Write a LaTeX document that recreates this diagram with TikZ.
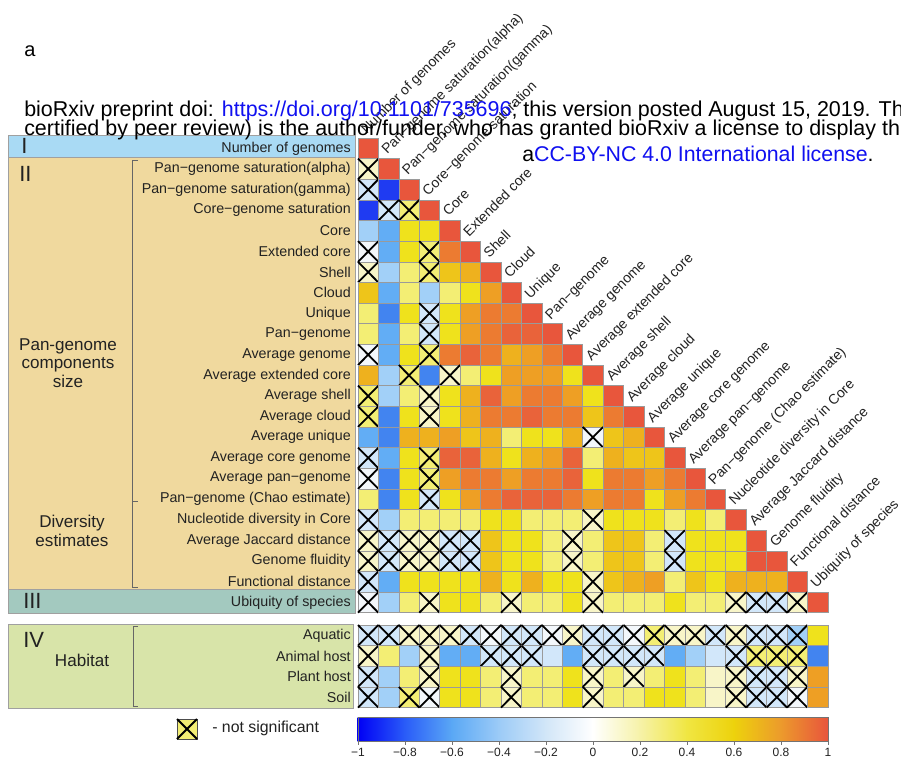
\documentclass[tikz,border=0pt]{standalone}
\usepackage{fontspec}
\setmainfont{Liberation Sans}
\definecolor{cR}{HTML}{E8563C}
\definecolor{cQ}{HTML}{E9633A}
\definecolor{cO}{HTML}{EC7B31}
\definecolor{co}{HTML}{EE9F24}
\definecolor{cg}{HTML}{EEB11E}
\definecolor{cy}{HTML}{EEC51A}
\definecolor{cY}{HTML}{EFE21C}
\definecolor{cl}{HTML}{F3EE74}
\definecolor{cp}{HTML}{F8F5C8}
\definecolor{cw}{HTML}{F3F7FB}
\definecolor{cb}{HTML}{D2E7FA}
\definecolor{cB}{HTML}{A2D0F8}
\definecolor{cm}{HTML}{62ADF5}
\definecolor{cM}{HTML}{4284F0}
\definecolor{cD}{HTML}{1F3BF2}
\definecolor{panI}{HTML}{A9DAF4}
\definecolor{panII}{HTML}{F0D99E}
\definecolor{panIII}{HTML}{A3C9BF}
\definecolor{panIV}{HTML}{D8E4A9}
\definecolor{panedge}{HTML}{A0A0A0}
\definecolor{gridc}{HTML}{9A9A9A}
\definecolor{linkblue}{HTML}{1010F0}
\definecolor{labc}{HTML}{222222}
\tikzset{
  gridl/.style={draw=gridc, line width=0.45pt},
  xmark/.style={draw=black, line width=1.35pt},
  rowlab/.style={font=\fontsize{10.7}{12}\selectfont, text=labc, inner sep=0pt, anchor=east},
  collab/.style={font=\fontsize{10.5}{12}\selectfont, text=labc, inner sep=0pt, anchor=base west, rotate=45},
  roman/.style={font=\fontsize{16.5}{18}\selectfont, text=labc, inner sep=0pt, anchor=west},
  grouplab/.style={font=\fontsize{12.8}{13.8}\selectfont, text=labc, inner sep=0pt, align=center},
  brk/.style={draw=black!60, line width=0.7pt},
  panel/.style={draw=panedge, line width=0.5pt},
  ticklab/.style={font=\fontsize{9}{10}\selectfont, text=labc, inner sep=0pt},
  wm/.style={inner sep=0pt, anchor=base west}
}
\newcommand\hmrow[2]{%
  \pgfmathsetmacro\yt{#1}%
  \foreach \cl/\fl [count=\jj] in {#2}{%
    \pgfmathsetmacro\xl{358+(\jj-1)*20.43}%
    \fill[fill=c\cl] (\xl,\yt) rectangle ++(20.43,20.64);
    \draw[gridl] (\xl,\yt) rectangle ++(20.43,20.64);
    \if x\fl \draw[xmark] (\xl,\yt) -- ++(20.43,20.64) ++(0,-20.64) -- ++(-20.43,20.64);\fi
  }}
\begin{document}
\begin{tikzpicture}[x=0.75pt,y=-0.75pt]
\useasboundingbox (0,0) rectangle (901,760);
\begin{scope}
\clip (0,0) rectangle (901,760);
\fill[white] (0,0) rectangle (901,760);
% panels
\filldraw[panel, fill=panI] (8,135) rectangle (355,157);
\filldraw[panel, fill=panII] (8,157) rectangle (355,589);
\filldraw[panel, fill=panIII] (8,589) rectangle (355,613);
\filldraw[panel, fill=panIV] (8,624) rectangle (353,708);
\node[roman] (pI) at (21,146) {I};
\node[roman] (pII) at (19,174) {II};
\node[roman] (pIII) at (23,601) {III};
\node[roman] (pIV) at (23,640) {IV};
\node[grouplab] (gPan) at (68,363) {Pan-genome\\components\\size};
\node[grouplab] (gDiv) at (72,531) {Diversity\\estimates};
\node[grouplab] (gHab) at (82,660) {Habitat};
\draw[brk] (138,160) -- (132,160) -- (132,587) -- (138,587);
\draw[brk] (132,501) -- (138,501);
\draw[brk] (138,626) -- (133,626) -- (133,706) -- (138,706);
% row labels
\foreach \t [count=\i] in {Number of genomes, Pan−genome saturation(alpha), Pan−genome saturation(gamma), Core−genome saturation, Core, Extended core, Shell, Cloud, Unique, Pan−genome, Average genome, Average extended core, Average shell, Average cloud, Average unique, Average core genome, Average pan−genome, Pan−genome (Chao estimate), Nucleotide diversity in Core, Average Jaccard distance, Genome fluidity, Functional distance, Ubiquity of species}
  \node[rowlab] (r\i) at (351,{138+(\i-0.5)*20.64}) {\t};
\foreach \t [count=\i] in {Aquatic, Animal host, Plant host, Soil}
  \node[rowlab] (h\i) at (351,{625+(\i-0.5)*20.64}) {\t};
% column labels
\foreach \t [count=\j] in {Number of genomes, Pan−genome saturation(alpha), Pan−genome saturation(gamma), Core−genome saturation, Core, Extended core, Shell, Cloud, Unique, Pan−genome, Average genome, Average extended core, Average shell, Average cloud, Average unique, Average core genome, Average pan−genome, Pan−genome (Chao estimate), Nucleotide diversity in Core, Average Jaccard distance, Genome fluidity, Functional distance, Ubiquity of species}
  \node[collab] (c\j) at ({358+(\j-0.5)*20.43-1.5},{138+(\j-1)*20.64-3.5}) {\t};
% correlation matrix
\hmrow{138+0*20.64}{R/-}
\hmrow{138+1*20.64}{p/x, R/-}
\hmrow{138+2*20.64}{b/x, D/-, R/-}
\hmrow{138+3*20.64}{D/-, b/x, l/x, R/-}
\hmrow{138+4*20.64}{B/-, m/-, Y/-, Y/-, R/-}
\hmrow{138+5*20.64}{w/x, m/-, Y/-, l/x, O/-, R/-}
\hmrow{138+6*20.64}{p/x, B/-, l/-, l/x, y/-, g/-, R/-}
\hmrow{138+7*20.64}{y/-, m/-, l/-, B/-, l/-, Y/-, o/-, R/-}
\hmrow{138+8*20.64}{l/-, M/-, Y/-, b/x, Y/-, o/-, O/-, O/-, R/-}
\hmrow{138+9*20.64}{l/-, m/-, l/-, b/x, Y/-, o/-, O/-, Q/-, Q/-, R/-}
\hmrow{138+10*20.64}{w/x, m/-, Y/-, l/x, O/-, Q/-, O/-, g/-, o/-, O/-, R/-}
\hmrow{138+11*20.64}{g/-, B/-, l/x, M/-, p/x, l/-, Y/-, o/-, o/-, o/-, Y/-, R/-}
\hmrow{138+12*20.64}{l/x, B/-, l/-, p/x, Y/-, g/-, Q/-, o/-, O/-, O/-, o/-, Y/-, R/-}
\hmrow{138+13*20.64}{l/x, M/-, Y/-, p/x, Y/-, g/-, O/-, O/-, Q/-, O/-, O/-, y/-, O/-, R/-}
\hmrow{138+14*20.64}{m/-, M/-, g/-, g/-, o/-, y/-, g/-, l/-, Y/-, Y/-, g/-, w/x, y/-, g/-, R/-}
\hmrow{138+15*20.64}{b/x, m/-, Y/-, l/x, Q/-, Q/-, g/-, Y/-, g/-, o/-, Q/-, l/-, g/-, y/-, y/-, R/-}
\hmrow{138+16*20.64}{w/x, M/-, Y/-, l/x, o/-, O/-, O/-, o/-, O/-, O/-, Q/-, Y/-, O/-, O/-, o/-, O/-, R/-}
\hmrow{138+17*20.64}{l/-, M/-, Y/-, b/x, Y/-, o/-, O/-, Q/-, Q/-, Q/-, O/-, o/-, O/-, O/-, Y/-, o/-, O/-, R/-}
\hmrow{138+18*20.64}{b/x, B/-, l/-, l/-, l/-, l/-, Y/-, Y/-, l/-, l/-, l/-, p/x, Y/-, Y/-, Y/-, l/-, Y/-, l/-, R/-}
\hmrow{138+19*20.64}{p/x, b/x, p/x, p/x, b/x, b/x, y/-, Y/-, Y/-, l/-, p/x, l/-, y/-, y/-, l/-, b/x, Y/-, Y/-, Y/-, R/-}
\hmrow{138+20*20.64}{p/x, b/x, p/x, p/x, b/x, b/x, y/-, Y/-, Y/-, l/-, p/x, l/-, y/-, y/-, l/-, b/x, Y/-, Y/-, Y/-, R/-, R/-}
\hmrow{138+21*20.64}{b/x, m/-, Y/-, Y/-, Y/-, Y/-, g/-, Y/-, g/-, Y/-, Y/-, p/x, y/-, g/-, o/-, l/-, y/-, Y/-, g/-, g/-, g/-, R/-}
\hmrow{138+22*20.64}{w/x, B/-, l/-, p/x, Y/-, Y/-, l/-, p/x, l/-, l/-, Y/-, p/x, l/-, l/-, l/-, Y/-, l/-, l/-, p/x, b/x, b/x, p/x, R/-}
% habitat
\hmrow{625+0*20.64}{b/x, b/x, p/x, p/x, p/x, b/x, w/x, b/x, b/x, w/x, p/x, b/x, b/x, w/x, l/x, p/x, p/x, b/x, p/x, b/x, b/x, B/x, Y/-}
\hmrow{625+1*20.64}{p/x, l/-, B/-, p/x, m/-, m/-, b/x, b/x, b/x, b/-, m/-, b/x, b/x, b/x, b/x, m/-, B/-, b/-, b/x, l/x, l/x, l/x, M/-}
\hmrow{625+2*20.64}{b/x, B/-, l/-, p/x, Y/-, Y/-, l/-, p/x, l/-, l/-, Y/-, p/x, l/-, p/x, l/-, Y/-, l/-, p/-, p/x, b/x, b/x, p/x, o/-}
\hmrow{625+3*20.64}{b/x, B/-, l/x, w/x, Y/-, Y/-, l/-, p/x, l/-, l/-, Y/-, p/x, l/-, l/-, Y/-, Y/-, l/-, p/-, p/x, b/x, b/x, w/x, o/-}
% legend
\filldraw[fill=cl, draw=black!70, line width=0.5pt] (177,719) rectangle (197,739);
\draw[xmark] (177,719) -- (197,739) (197,719) -- (177,739);
\node[font=\fontsize{11.9}{13}\selectfont, text=labc, inner sep=0pt, anchor=west] (ns) at (212,728) {- not significant};
% colorbar
\foreach \a/\b/\ca/\cbb in {-1/-0.8/0000F5/2A5CF8, -0.8/-0.6/2A5CF8/5AA8F5, -0.6/-0.4/5AA8F5/9CCBF7, -0.4/-0.2/9CCBF7/D2E6F8, -0.2/0/D2E6F8/FFFFFF, 0/0.2/FFFFFF/F6F2A8, 0.2/0.4/F6F2A8/F0E642, 0.4/0.6/F0E642/EDD20C, 0.6/0.8/EDD20C/EC9A2C, 0.8/1/EC9A2C/E8543C}{
  \definecolor{gradA}{HTML}{\ca}\definecolor{gradB}{HTML}{\cbb}
  \shade[left color=gradA, right color=gradB] ({358+(\a+1)*235-0.3},717) rectangle ({358+(\b+1)*235+0.3},741);
}
\draw[draw=black!55, line width=0.5pt] (358,717) rectangle (828,741);
\foreach \v/\lab [count=\k] in {-1/−1, -0.8/−0.8, -0.6/−0.6, -0.4/−0.4, -0.2/−0.2, 0/0, 0.2/0.2, 0.4/0.4, 0.6/0.6, 0.8/0.8, 1/1}{
  \draw[black!55, line width=0.5pt] ({358+(\v+1)*235},741) -- ({358+(\v+1)*235},745);
  \node[ticklab] (t\k) at ({358+(\v+1)*235},752) {\lab};
}
% panel label a and overlay text
\node[font=\fontsize{15}{16}\selectfont, inner sep=0pt, anchor=base west] (lbla) at (24,56) {a};
\node[wm, font=\fontsize{16.1}{18}\selectfont] (wm1) at (24,116) {bioRxiv preprint doi: \textcolor{linkblue}{https://doi.org/10.1101/735696}; this version posted August 15, 2019. Th};
\node[wm, font=\fontsize{16.1}{18}\selectfont] (wm2) at (24,135) {certified by peer review) is the author/funder, who has granted bioRxiv a license to display th};
\node[wm, font=\fontsize{16}{18}\selectfont] (wm3) at (522,161) {a\textcolor{linkblue}{CC-BY-NC 4.0 International license}.};
\end{scope}
\end{tikzpicture}
\end{document}
